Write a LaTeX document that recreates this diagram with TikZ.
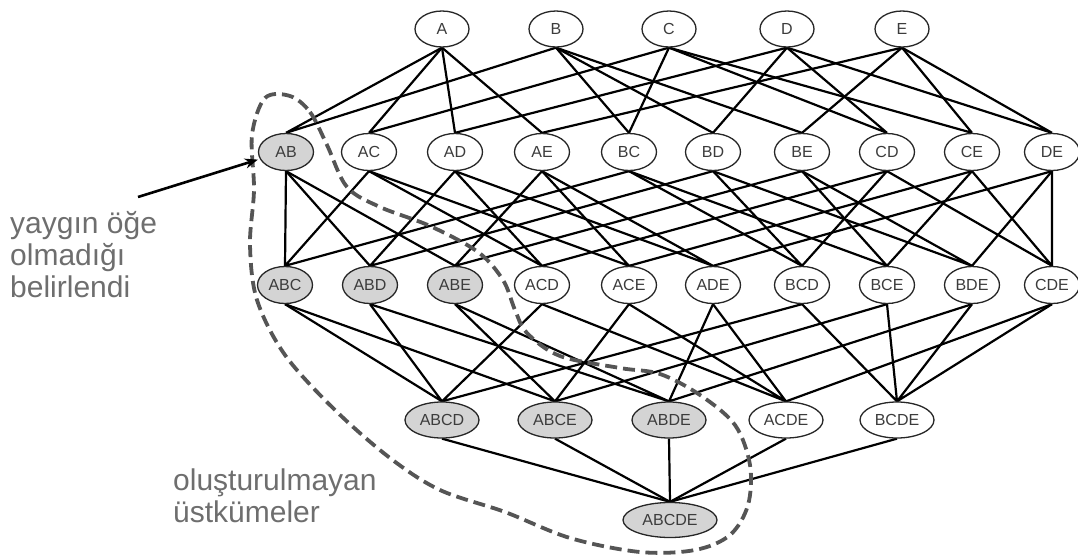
\documentclass[tikz,border=0pt]{standalone}
\usepackage{fontspec}
\setmainfont{Liberation Sans}
\usetikzlibrary{shapes.geometric,arrows.meta,backgrounds}
\definecolor{nodegray}{HTML}{D4D4D4}
\definecolor{txtgray}{HTML}{3C3C3C}
\definecolor{lblgray}{HTML}{6E6E6E}
\definecolor{dashgray}{HTML}{555555}
\tikzset{
  iset/.style={ellipse, draw=black!85, line width=1.3pt, fill=white, inner sep=0pt,
    minimum width=55pt, minimum height=37pt, text=txtgray, font=\fontsize{16}{19}\selectfont},
  single/.style={iset, minimum width=54pt, minimum height=36pt},
  quad/.style={iset, minimum width=74pt, minimum height=36pt},
  quint/.style={iset, minimum width=94pt, minimum height=35pt},
  pruned/.style={fill=nodegray},
  edge/.style={line width=2.2pt, black},
  border/.style={dashgray, line width=3.8pt, dash pattern=on 12pt off 6pt},
  pointer/.style={line width=2.6pt, black, -{Stealth[length=13pt,width=10pt]}},
  lbl/.style={text=lblgray, font=\fontsize{30}{32}\selectfont, align=left, inner sep=0pt}
}
\begin{document}
\begin{tikzpicture}[x=1pt,y=-1pt]
\useasboundingbox (0,0) rectangle (1078,557);
% level 1
\foreach \n/\x in {A/442,B/556,C/669,D/787,E/902}
  \node[single] (\n) at (\x,29) {\n};
% level 2
\node[iset, pruned] (AB) at (286,152) {AB};
\foreach \n/\x in {AC/369,AD/455,AE/542,BC/629,BD/713,BE/802,CD/887,CE/972,DE/1052}
  \node[iset] (\n) at (\x,152) {\n};
% level 3
\foreach \n/\x in {ABC/285,ABD/370,ABE/455}
  \node[iset, pruned] (\n) at (\x,285) {\n};
\foreach \n/\x in {ACD/542,ACE/629,ADE/713,BCD/802,BCE/887,BDE/972,CDE/1052}
  \node[iset] (\n) at (\x,285) {\n};
% level 4
\foreach \n/\x in {ABCD/442,ABCE/555,ABDE/669}
  \node[quad, pruned] (\n) at (\x,420) {\n};
\foreach \n/\x in {ACDE/786,BCDE/897}
  \node[quad] (\n) at (\x,420) {\n};
% level 5
\node[quint, pruned] (ABCDE) at (670,520) {ABCDE};
% edges
\begin{scope}[on background layer]
\foreach \s/\a/\b in {AB/A/B,AC/A/C,AD/A/D,AE/A/E,BC/B/C,BD/B/D,BE/B/E,CD/C/D,CE/C/E,DE/D/E}
  \draw[edge] (\a.south) -- (\s.north) (\b.south) -- (\s.north);
\foreach \s/\a/\b/\c in {ABC/AB/AC/BC,ABD/AB/AD/BD,ABE/AB/AE/BE,ACD/AC/AD/CD,ACE/AC/AE/CE,
    ADE/AD/AE/DE,BCD/BC/BD/CD,BCE/BC/BE/CE,BDE/BD/BE/DE,CDE/CD/CE/DE}
  \draw[edge] (\a.south) -- (\s.north) (\b.south) -- (\s.north) (\c.south) -- (\s.north);
\foreach \s/\a/\b/\c/\d in {ABCD/ABC/ABD/ACD/BCD,ABCE/ABC/ABE/ACE/BCE,ABDE/ABD/ABE/ADE/BDE,
    ACDE/ACD/ACE/ADE/CDE,BCDE/BCD/BCE/BDE/CDE}
  \draw[edge] (\a.south) -- (\s.north) (\b.south) -- (\s.north) (\c.south) -- (\s.north) (\d.south) -- (\s.north);
\foreach \a in {ABCD,ABCE,ABDE,ACDE,BCDE}
  \draw[edge] (\a.south) -- (ABCDE.north);
\end{scope}
% dashed border round the pruned supersets
\draw[border] plot[smooth cycle, tension=0.55] coordinates {
  (290,96) (310,112) (327,145) (347,187) (380,207) (430,226) (478,252) (503,280)
  (515,310) (527,333) (560,356) (620,368) (660,374) (700,395) (735,425) (750,465)
  (748,505) (730,535) (695,550) (640,552) (570,538) (505,512) (440,490) (390,458)
  (335,410) (285,355) (257,300) (250,245) (254,190) (252,135) (265,98)};
% labels
\node[lbl, anchor=base west] (infreq) at (10,297) {yaygın öğe\\olmadığı\\belirlendi};
\node[lbl, anchor=base west] (supers) at (173,522) {oluşturulmayan\\üstkümeler};
\coordinate (arrtail) at (138,197);
\draw[pointer, shorten >=2pt] (arrtail) -- (AB.195);
\end{tikzpicture}
\end{document}
